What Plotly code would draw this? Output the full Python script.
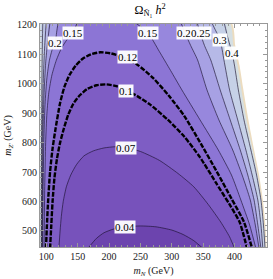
import plotly.graph_objects as go

# ---------------- data ----------------
x_ticks = [100, 150, 200, 250, 300, 350, 400, 450]
y_ticks = [500, 600, 700, 800, 900, 1000, 1100, 1200]

# contour Omega h^2 = 0.04
c004_x = [166, 180, 192, 208, 226, 250, 275, 300, 318, 335, 350]
c004_y = [440, 475, 494, 507, 514, 517, 514, 503, 488, 467, 440]
# 0.07
c007_x = [120, 122, 124, 127, 132, 139, 148, 160, 175, 192, 210, 227, 250, 280, 310, 335, 358, 378, 392, 400]
c007_y = [440, 500, 550, 600, 650, 690, 725, 755, 772, 782, 786, 783, 770, 740, 695, 650, 590, 530, 480, 440]
# 0.1
c010_x = [106, 108, 110, 113, 117, 122, 128, 135, 143, 153, 165, 180, 196, 212, 228, 245, 265, 294, 320, 345, 370, 392, 408, 420]
c010_y = [440, 520, 600, 680, 745, 800, 848, 895, 932, 960, 982, 995, 998, 992, 977, 958, 930, 877, 820, 750, 665, 590, 530, 440]
# 0.12
c012_x = [99.5, 101, 103, 106, 110, 115, 122, 129, 137, 147, 158, 171, 186, 203, 222, 245, 270, 295, 320, 348, 372, 395, 415, 428]
c012_y = [440, 520, 605, 700, 780, 850, 935, 990, 1030, 1062, 1085, 1100, 1107, 1103, 1091, 1065, 1020, 960, 890, 790, 700, 610, 530, 440]
# 0.15
c015_left_x = [96.5, 97.5, 99, 101, 104, 109, 116, 124, 133, 142, 150]
c015_left_y = [440, 650, 800, 900, 970, 1030, 1080, 1120, 1150, 1173, 1210]
c015_right_x = [240, 262, 280, 298, 316, 345, 374, 395, 410, 424, 434]
c015_right_y = [1210, 1173, 1110, 1045, 979, 877, 775, 690, 605, 520, 440]
# 0.2
c02_left_x = [94.3, 95, 96.3, 98, 101, 105, 110, 114.3, 116.5, 119]
c02_left_y = [440, 650, 820, 930, 1020, 1080, 1120, 1139, 1175, 1210]
c02_right_x = [314, 321, 330, 341, 356, 375, 397, 412, 425, 433, 439]
c02_right_y = [1210, 1173, 1130, 1081, 979, 877, 775, 690, 605, 520, 440]
# 0.25
c025_left_x = [93.5, 94, 95, 96.5, 99, 102, 106]
c025_left_y = [440, 650, 850, 970, 1070, 1140, 1210]
c025_right_x = [340, 345, 352, 362, 377, 393, 409, 421, 431, 437, 442]
c025_right_y = [1210, 1173, 1130, 1081, 979, 877, 775, 690, 605, 520, 440]
# 0.3
c03_left_x = [92.7, 93.1, 94, 95.5, 97.5, 100]
c03_left_y = [440, 700, 900, 1030, 1130, 1210]
c03_right_x = [363, 370, 377, 383, 392, 405, 418, 428, 437, 442, 445]
c03_right_y = [1210, 1180, 1149, 1081, 979, 877, 775, 690, 605, 520, 440]
# 0.4
c04_left_x = [92, 92.3, 92.8, 93.5, 94.5]
c04_left_y = [440, 750, 950, 1100, 1210]
c04_right_x = [383, 390, 396, 400, 406, 415, 426, 435, 442, 446, 448.5]
c04_right_y = [1210, 1150, 1105, 1060, 979, 877, 775, 690, 605, 520, 440]
# 0.5 (edge of beige strip)
c05_right_x = [391, 398, 405, 411, 419, 429, 437, 443, 447, 449.5]
c05_right_y = [1210, 1130, 1060, 979, 877, 775, 690, 605, 520, 440]
# edge of computed domain
edge_x = [394, 401, 408, 414, 422, 431, 439, 445, 449, 451]
edge_y = [1210, 1130, 1060, 979, 877, 775, 690, 605, 520, 440]

# contour labels
label_text = ["0.15", "0.2", "0.15", "0.2", "0.25", "0.3", "0.4", "0.12", "0.1", "0.07", "0.04"]
label_x = [142.2, 114.3, 261.5, 319, 347, 376.8, 396, 228.9, 227.3, 227.3, 225.7]
label_y = [1173, 1139, 1173, 1173, 1173, 1149, 1105, 1091, 976, 782, 512]

# band colours (low -> high)
col_lt004 = "#6c44ae"
col_004 = "#7752bb"
col_007 = "#7e5dc4"
col_010 = "#8567cc"
col_012 = "#8c75d5"
col_015 = "#9787dd"
col_020 = "#a7a1e4"
col_025 = "#b6b9e7"
col_030 = "#c6d1e7"
col_040 = "#d5dfe3"
col_gt05 = "#ecdcbf"

SERIF = "Liberation Serif"

fig = go.Figure()

def add_fill(xs, ys, color):
    fig.add_trace(go.Scatter(x=xs, y=ys, mode="lines", fill="toself", fillcolor=color,
                             line=dict(width=0, color=color, shape="spline", smoothing=0.6),
                             hoverinfo="skip", showlegend=False))

# filled bands, outermost first
add_fill([85, 85] + edge_x, [440, 1210] + edge_y, col_gt05)
add_fill([85, 85] + c05_right_x, [440, 1210] + c05_right_y, col_040)
add_fill(c04_left_x + c04_right_x, c04_left_y + c04_right_y, col_030)
add_fill(c03_left_x + c03_right_x, c03_left_y + c03_right_y, col_025)
add_fill(c025_left_x + c025_right_x, c025_left_y + c025_right_y, col_020)
add_fill(c02_left_x + c02_right_x, c02_left_y + c02_right_y, col_015)
add_fill(c015_left_x + c015_right_x, c015_left_y + c015_right_y, col_012)
add_fill(c012_x, c012_y, col_010)
add_fill(c010_x, c010_y, col_007)
add_fill(c007_x, c007_y, col_004)
add_fill(c004_x, c004_y, col_lt004)

def add_line(xs, ys, width=0.8, dash=None, color="rgba(25,15,45,0.8)"):
    fig.add_trace(go.Scatter(x=xs, y=ys, mode="lines",
                             line=dict(width=width, color=color, dash=dash, shape="spline", smoothing=0.6),
                             connectgaps=False, hoverinfo="skip", showlegend=False))

add_line(c04_left_x + [None] + c04_right_x, c04_left_y + [None] + c04_right_y)
add_line(c03_left_x + [None] + c03_right_x, c03_left_y + [None] + c03_right_y)
add_line(c025_left_x + [None] + c025_right_x, c025_left_y + [None] + c025_right_y)
add_line(c02_left_x + [None] + c02_right_x, c02_left_y + [None] + c02_right_y)
add_line(c015_left_x + [None] + c015_right_x, c015_left_y + [None] + c015_right_y)
add_line(c007_x, c007_y)
add_line(c004_x, c004_y)
add_line(c012_x, c012_y, width=2.4, dash="5px,1.5px", color="black")
add_line(c010_x, c010_y, width=2.4, dash="5px,1.5px", color="black")

for t, lx, ly in zip(label_text, label_x, label_y):
    fig.add_annotation(x=lx, y=ly, text=t, showarrow=False,
                       font=dict(family=SERIF, size=11, color="black"),
                       bgcolor="rgba(255,255,255,0.95)", borderpad=0)

axis_common = dict(ticks="inside", ticklen=4, tickcolor="#999", tickwidth=1,
                   showline=True, linecolor="#999", linewidth=1, mirror="allticks",
                   showgrid=False, zeroline=False, layer="above traces",
                   tickfont=dict(family=SERIF, size=10, color="#222"))

fig.update_xaxes(range=[90, 451.6], tickvals=x_ticks,
                 minor=dict(dtick=10, ticks="inside", ticklen=2, tickcolor="#999"),
                 title=dict(text="<i>m</i><sub><i>N</i></sub> (GeV)", standoff=5,
                            font=dict(family=SERIF, size=10, color="#222")),
                 **axis_common)
fig.update_yaxes(range=[445.5, 1203], tickvals=y_ticks,
                 minor=dict(dtick=20, ticks="inside", ticklen=2, tickcolor="#999"),
                 title=dict(text="<i>m</i><sub><i>Z'</i></sub> (GeV)", standoff=3,
                            font=dict(family=SERIF, size=10, color="#222")),
                 **axis_common)

fig.update_layout(
    width=273, height=279,
    margin=dict(l=40, r=6, t=24, b=32),
    paper_bgcolor="white", plot_bgcolor="white",
    title=dict(text="Ω<sub>Ñ₁</sub> <i>h</i><sup>2</sup>", x=0.55, xanchor="center",
               y=0.965, yanchor="middle", font=dict(family=SERIF, size=12, color="black")),
)

fig.write_html("out.html", config={"displayModeBar": False},
               post_script="document.body.style.margin='0';")
